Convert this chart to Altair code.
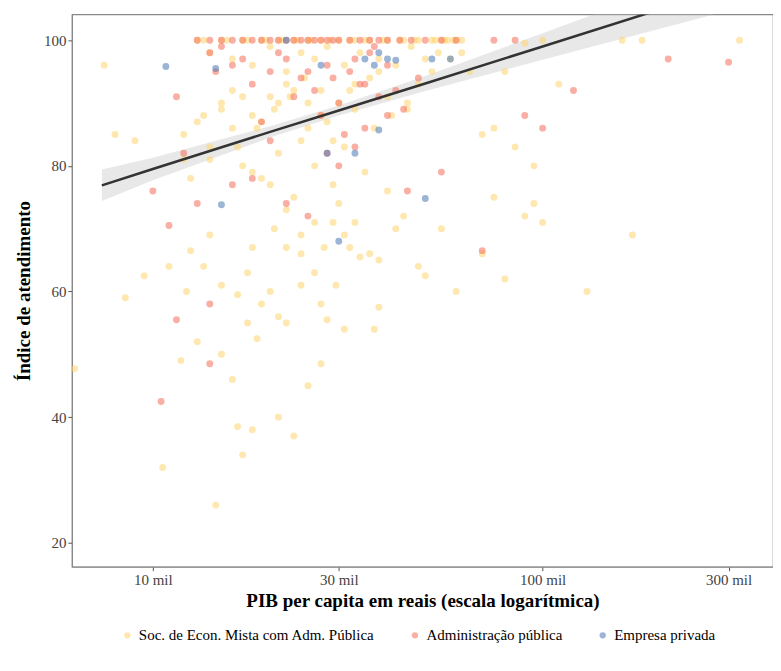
import altair as alt
import pandas as pd

# PIB per capita (mil reais) e índice de atendimento, por tipo de prestador
soc_pib = [6.3, 8.5, 9.5, 10.6, 11, 11.8, 12.2, 12.5, 13, 13.5, 14, 14.5, 15, 15, 16, 16.5,
           16.5, 17, 17.5, 17.5, 18, 18, 18.5, 19, 20, 20.5, 21, 21, 22, 22, 23, 24, 24, 25,
           26, 27, 27, 27.5, 28, 29, 29.5, 30, 31, 31, 32, 33, 34, 36, 37, 38, 38, 40, 42,
           44, 50, 48, 55, 60, 70, 75, 80, 90, 100, 95, 130, 170,
           8, 7.5, 9, 12, 13, 13.5, 15, 16, 18, 20, 22, 25, 28, 33, 38, 42, 50, 65, 80,
           110, 70, 17, 19, 21, 23, 24, 26, 29, 31, 35, 12.5, 14, 16.5, 18.5, 20.5, 22.5,
           24.5, 27, 30, 32, 36, 40, 45, 48, 52, 58, 62, 75, 85, 95,
           13, 15, 17, 19, 21, 23, 25, 27, 30, 33, 36, 40, 44, 48, 52, 55, 57, 60, 62,
           14, 16, 18, 20, 22, 24, 26, 28, 31, 34, 38, 46, 54, 100, 180, 320, 160, 90,
           13.5, 15.5, 17.5, 19.5, 21.5, 23.5, 25.5, 28.5, 32, 35, 39, 43, 47, 53, 56, 59,
           15, 17, 19, 21, 23, 25, 27, 29, 33, 37, 41, 45, 12, 14, 16, 18, 20, 22, 24, 26]
soc_idx = [47.7, 59, 62.5, 32, 64, 49, 60, 66.5, 52, 64, 69, 26, 50, 61, 46, 38.5,
           59.5, 34, 55, 63, 38, 67, 52.5, 58, 60, 70, 56, 40, 67, 55, 37, 66, 61, 45,
           63, 48.5, 58, 67, 55.5, 71, 61, 74, 69, 54, 67, 71, 65.5, 66, 54, 65, 57.5, 76,
           70, 72, 62.5, 64, 70, 60, 66, 75, 62, 72, 71, 74, 60, 69,
           85, 96, 84, 85, 87, 88, 90, 92, 88, 91, 93, 90, 87, 93, 95, 96, 97, 95, 95,
           93, 85, 80, 78, 82, 75, 84, 80, 77, 83, 79, 78, 81, 83, 86, 89, 91,
           94, 92, 90, 92, 94, 91, 89, 93, 95, 97, 98, 86, 83, 80,
           100, 100, 100, 100, 100, 100, 100, 100, 100, 100, 100, 100, 100, 100, 100, 100, 100, 100, 100,
           98, 97, 96, 99, 95, 98, 97, 99, 96, 98, 97, 99, 98, 100, 100, 100, 100, 99.5,
           100, 100, 100, 100, 100, 100, 100, 100, 100, 100, 100, 100, 100, 100, 100, 100,
           89, 91, 87, 90, 92, 86, 88, 84, 89, 86, 88, 90, 81, 83, 86, 79, 77, 73, 69, 71]

adm_pib = [10, 10.5, 11, 11.5, 11.5, 12, 13, 14, 14, 14.5, 16, 18, 20, 22, 25, 28, 30, 33,
           35, 40, 45, 55, 70, 90, 100, 120, 210, 300,
           13, 14, 15, 16, 17, 18, 19, 20, 21, 22, 23, 24, 25, 26, 27, 28, 29, 30, 32, 34,
           36, 38, 40, 43, 46, 50, 55, 60, 75, 85,
           14, 16, 18, 20, 22, 24, 26, 28, 30, 32, 34, 36, 38, 40, 44, 48, 19, 23, 27, 31, 35,
           15, 17, 21, 25, 29, 33, 37, 42]
adm_idx = [76, 42.5, 70.5, 55.5, 91, 82, 74, 58, 48.5, 95, 77, 78, 84, 74, 72, 82, 80, 83,
           86, 88, 76, 79, 66.5, 88, 86, 92, 97, 96.5,
           100, 100, 100, 100, 100, 100, 100, 100, 100, 100, 100, 100, 100, 100, 100, 100, 100, 100, 100, 100,
           100, 100, 100, 100, 100, 100, 100, 100, 100, 100,
           98, 96, 93, 95, 97, 94, 92, 96, 90, 95, 93, 98, 91, 96, 89, 94, 87, 91, 88, 85, 93,
           99, 97, 98, 95, 94, 97, 99, 92]

emp_pib = [10.8, 14.5, 15, 27, 30, 33, 35, 37, 38, 40, 42, 50, 52, 58, 38, 28, 22]
emp_idx = [95.8, 95.5, 73.8, 96, 68, 82, 97, 96, 98, 97, 96.8, 74.8, 97, 97, 85.7, 82, 100]

# reta ajustada e intervalo de confiança
fit_pib = [7.4, 10, 20, 30, 50, 100, 200, 390]
fit_y = [76.9, 79.5, 85.4, 88.8, 93.1, 99.0, 104.9, 110.6]
fit_lo = [74.4, 77.7, 84.5, 88.0, 91.9, 96.9, 101.8, 106.6]
fit_hi = [79.4, 81.3, 86.3, 89.6, 94.3, 101.1, 108.0, 114.6]

cats = ["Soc. de Econ. Mista com Adm. Pública", "Administração pública", "Empresa privada"]
colors = ["#fed670", "#f46d5a", "#4a79b5"]

pts = pd.concat([
    pd.DataFrame({"pib": [v * 1000 for v in soc_pib], "idx": soc_idx, "tipo": cats[0]}),
    pd.DataFrame({"pib": [v * 1000 for v in adm_pib], "idx": adm_idx, "tipo": cats[1]}),
    pd.DataFrame({"pib": [v * 1000 for v in emp_pib], "idx": emp_idx, "tipo": cats[2]}),
])
fit = pd.DataFrame({"pib": [v * 1000 for v in fit_pib], "y": fit_y, "lo": fit_lo, "hi": fit_hi})

xsc = alt.Scale(type="log", domain=[6200, 390000], nice=False)
ysc = alt.Scale(domain=[16.2, 104.1], nice=False, zero=False)

xax = alt.Axis(values=[10000, 30000, 100000, 300000], labelExpr="datum.value / 1000 + ' mil'",
               title="PIB per capita em reais (escala logarítmica)", grid=False)
yax = alt.Axis(values=[20, 40, 60, 80, 100], title="Índice de atendimento", grid=False)

points = alt.Chart(pts).mark_circle(size=48, opacity=0.55, clip=True).encode(
    x=alt.X("pib:Q", scale=xsc, axis=xax),
    y=alt.Y("idx:Q", scale=ysc, axis=yax),
    color=alt.Color("tipo:N", scale=alt.Scale(domain=cats, range=colors),
                    legend=alt.Legend(title=None, orient="none", direction="horizontal",
                                      legendX=48, legendY=614, labelLimit=0,
                                      labelFont="Liberation Serif",
                                      symbolOpacity=0.55, columnPadding=32)),
)
band = alt.Chart(fit).mark_area(color="#cccccc", opacity=0.45, clip=True).encode(
    x=alt.X("pib:Q", scale=xsc), y="lo:Q", y2="hi:Q")
line = alt.Chart(fit).mark_line(color="#333333", strokeWidth=2.5, clip=True).encode(
    x=alt.X("pib:Q", scale=xsc), y=alt.Y("y:Q", scale=ysc))

chart = (
    alt.layer(band, points, line)
    .properties(width=702, height=553, autosize="none",
                padding={"left": 64, "top": 6, "right": 0, "bottom": 96})
    .configure(font="Liberation Serif")
    .configure_view(stroke="#888888", strokeWidth=1.2)
    .configure_axis(labelFont="Liberation Serif", titleFont="Liberation Serif",
                    labelFontSize=15, titleFontSize=19, titleFontWeight="bold",
                    labelColor="#444444", titleColor="#000000", domainColor="#888888",
                    tickColor="#555555", tickSize=4)
    .configure_axisY(titlePadding=10)
    .configure_legend(labelFontSize=15, labelColor="#000000", symbolSize=40)
)
chart.save("out.html", embed_options={"renderer": "svg", "actions": False})
